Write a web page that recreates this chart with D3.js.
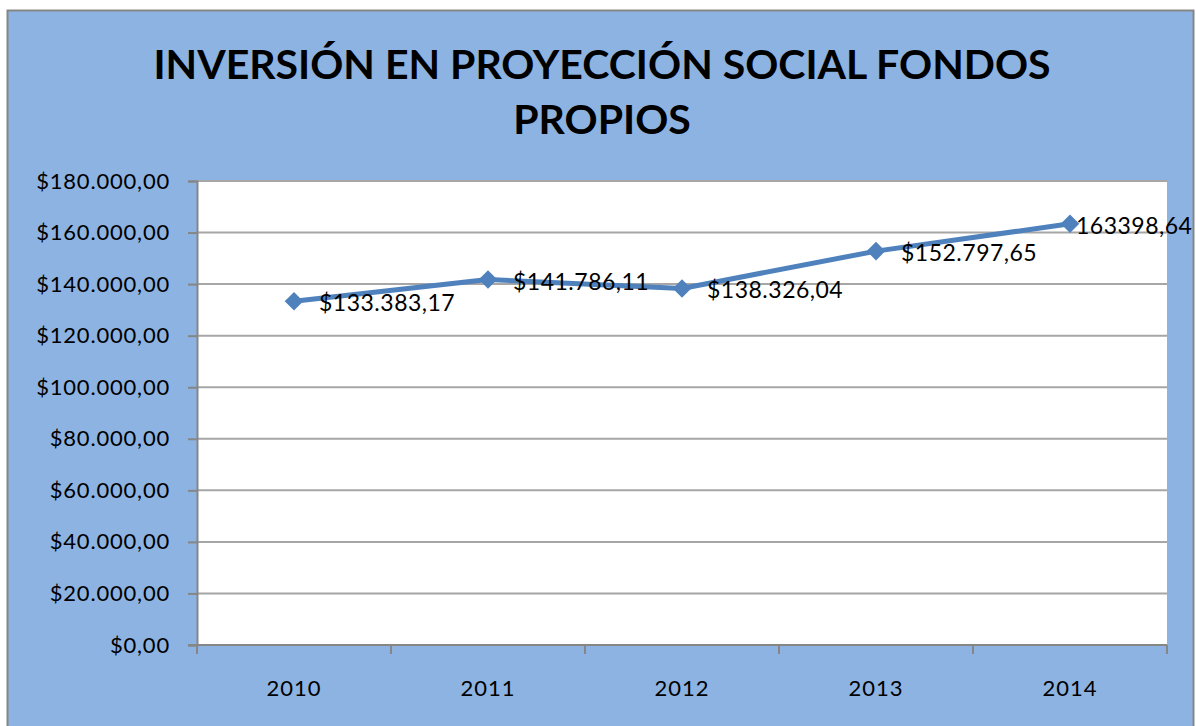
<!DOCTYPE html>
<html>
<head>
<meta charset="utf-8">
<script src="https://cdn.jsdelivr.net/npm/d3@7"></script>
<style>
  body { margin: 0; background: #fff; }
  text { font-family: Lato, "Open Sans", sans-serif; fill: #000; }
</style>
</head>
<body>
<svg width="1196" height="726"></svg>
<script>
// chart data
const years = ["2010", "2011", "2012", "2013", "2014"];
const values = [133383.17, 141786.11, 138326.04, 152797.65, 163398.64];
const pointLabels = ["$133.383,17", "$141.786,11", "$138.326,04", "$152.797,65", "163398,64"];
const yTicks = [0, 20000, 40000, 60000, 80000, 100000, 120000, 140000, 160000, 180000];
const titleLines = ["INVERSIÓN EN PROYECCIÓN SOCIAL FONDOS", "PROPIOS"];

let svg = d3.select("svg");
let plot = { left: 197, top: 181, right: 1167, bottom: 645 };

// es-style money format
let locale = d3.formatLocale({ decimal: ",", thousands: ".", grouping: [3], currency: ["$", ""] });
let money = locale.format("$,.2f");

// background + border
svg.append("rect")
  .attr("x", 7.5).attr("y", 10.5)
  .attr("width", 1186).attr("height", 730)
  .attr("fill", "#8DB3E2")
  .attr("stroke", "#868686")
  .attr("stroke-width", 2);

svg.append("rect")
  .attr("x", plot.left).attr("y", plot.top)
  .attr("width", plot.right - plot.left)
  .attr("height", plot.bottom - plot.top)
  .attr("fill", "#fff");

// title
svg.selectAll(".title")
  .data(titleLines)
  .enter()
  .append("text")
  .attr("class", "title")
  .attr("x", 602)
  .attr("y", function(d, i) { return 79 + i * 55; })
  .attr("text-anchor", "middle")
  .style("font-size", "41px")
  .style("font-weight", "bold")
  .text(function(d) { return d; });

let xScale = d3.scaleBand().domain(years).range([plot.left, plot.right]);
let yScale = d3.scaleLinear().domain([0, 180000]).range([plot.bottom, plot.top]);

// gridlines
svg.append("g")
  .selectAll("line")
  .data(yTicks.slice(1))
  .enter()
  .append("line")
  .attr("x1", plot.left).attr("x2", plot.right)
  .attr("y1", function(d) { return yScale(d); })
  .attr("y2", function(d) { return yScale(d); })
  .attr("stroke", "#A6A6A6")
  .attr("stroke-width", 2);

// y axis
let yAxis = svg.append("g")
  .attr("transform", "translate(" + plot.left + ",0)")
  .call(d3.axisLeft(yScale).tickValues(yTicks).tickFormat(money).tickSize(9).tickPadding(18));
yAxis.select(".domain").attr("stroke", "#868686").attr("stroke-width", 2);
yAxis.selectAll(".tick line").attr("stroke", "#868686").attr("stroke-width", 2);
yAxis.selectAll("text")
  .style("font-size", "22px")
  .style("letter-spacing", "0.8px")
  .attr("fill", "#000");

// x axis, ticks on category boundaries
let xAxis = svg.append("g")
  .attr("transform", "translate(0," + plot.bottom + ")");
xAxis.append("line")
  .attr("x1", plot.left - 9).attr("x2", plot.right)
  .attr("stroke", "#868686").attr("stroke-width", 2);
let bounds = years.map(function(d) { return xScale(d); }).concat([plot.right]);
xAxis.selectAll(".xt")
  .data(bounds)
  .enter()
  .append("line")
  .attr("x1", function(d) { return d; }).attr("x2", function(d) { return d; })
  .attr("y1", 0).attr("y2", 9)
  .attr("stroke", "#868686").attr("stroke-width", 2);
xAxis.selectAll(".xl")
  .data(years)
  .enter()
  .append("text")
  .attr("x", function(d) { return xScale(d) + xScale.bandwidth() / 2; })
  .attr("y", 51)
  .attr("text-anchor", "middle")
  .style("font-size", "22px")
  .style("letter-spacing", "1px")
  .text(function(d) { return d; });

// line
let pts = years.map(function(d, i) {
  return [xScale(d) + xScale.bandwidth() / 2, yScale(values[i])];
});
svg.append("path")
  .datum(pts)
  .attr("d", d3.line())
  .attr("fill", "none")
  .attr("stroke", "#4F81BD")
  .attr("stroke-width", 5)
  .attr("stroke-linejoin", "round");

svg.selectAll(".mark")
  .data(pts)
  .enter()
  .append("path")
  .attr("class", "mark")
  .attr("transform", function(d) { return "translate(" + d[0] + "," + d[1] + ")"; })
  .attr("d", d3.symbol().type(d3.symbolDiamond2).size(220))
  .attr("fill", "#4F81BD");

// data labels (last one sits tight to its marker, like the original)
svg.selectAll(".lbl")
  .data(pts)
  .enter()
  .append("text")
  .attr("class", "lbl")
  .attr("x", function(d, i) { return d[0] + (i === pts.length - 1 ? 6 : 25); })
  .attr("y", function(d) { return d[1] + 2; })
  .attr("dy", "0.35em")
  .style("font-size", "23px")
  .style("letter-spacing", "0.5px")
  .text(function(d, i) { return pointLabels[i]; });
</script>
</body>
</html>
